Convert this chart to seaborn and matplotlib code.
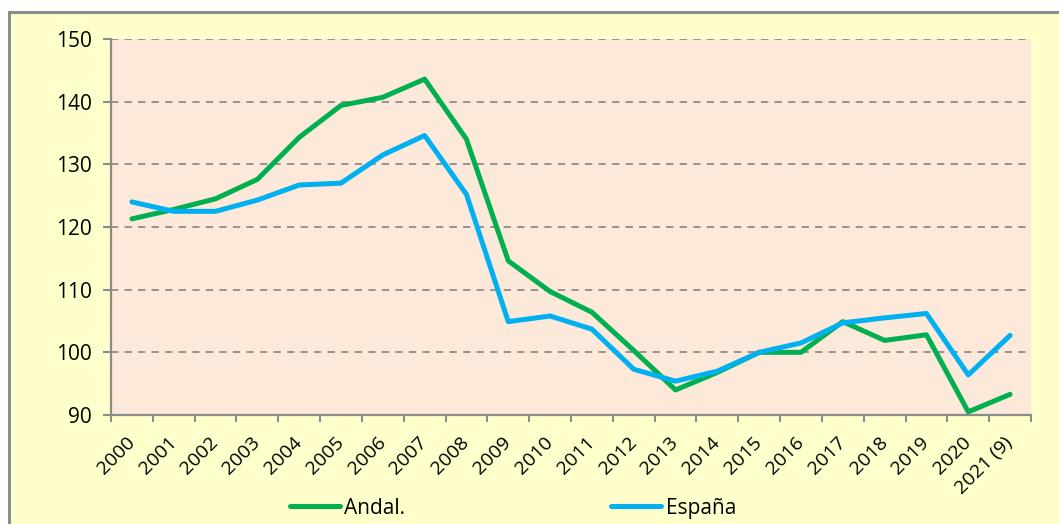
import matplotlib
matplotlib.use("Agg")
import matplotlib.pyplot as plt
import seaborn as sns
import pandas as pd
from matplotlib.patches import Rectangle
from matplotlib.ticker import FixedLocator

years = ["2000", "2001", "2002", "2003", "2004", "2005", "2006", "2007", "2008", "2009",
         "2010", "2011", "2012", "2013", "2014", "2015", "2016", "2017", "2018", "2019",
         "2020", "2021 (9)"]
andal = [121.3, 122.8, 124.5, 127.6, 134.3, 139.4, 140.7, 143.6, 134.0, 114.6,
         109.7, 106.4, 100.3, 94.0, 96.8, 100.0, 100.0, 104.9, 101.9, 102.8,
         90.5, 93.3]
espana = [124.0, 122.5, 122.5, 124.3, 126.7, 127.0, 131.5, 134.6, 125.2, 104.9,
          105.8, 103.7, 97.3, 95.4, 97.0, 100.0, 101.5, 104.7, 105.5, 106.2,
          96.4, 102.7]
series_names = ["Andal.", "España"]
colors = {"Andal.": "#00B050", "España": "#00B0F0"}

df = pd.DataFrame({
    "idx": list(range(len(years))) * 2,
    "value": andal + espana,
    "serie": [series_names[0]] * len(years) + [series_names[1]] * len(years),
})

sns.set_style("white")
plt.rcParams["font.family"] = ["Open Sans", "DejaVu Sans"]
plt.rcParams["text.color"] = "black"
plt.rcParams["xtick.color"] = "#8C8C8C"
plt.rcParams["ytick.color"] = "#8C8C8C"
plt.rcParams["xtick.labelcolor"] = "black"
plt.rcParams["ytick.labelcolor"] = "black"

W, H = 1059, 524
fig = plt.figure(figsize=(W / 100, H / 100), dpi=100, facecolor="white")
bg = fig.add_axes([0, 0, 1, 1], zorder=-10)
bg.set_xlim(0, W)
bg.set_ylim(0, H)
bg.axis("off")
bg.add_patch(Rectangle((9, -20), W + 40, H - 12 + 20, facecolor="#FFFFCC",
                       edgecolor="#8C8C8C", linewidth=2.2))

ax = fig.add_axes([111 / W, (H - 415) / H, (1031 - 111) / W, (415 - 39) / H])
ax.set_facecolor("#FDE9DA")

sns.lineplot(data=df, x="idx", y="value", hue="serie", palette=colors,
             linewidth=3.6, sort=False, ax=ax, legend=True)

ax.set_xlim(-0.5, len(years) - 0.5)
ax.set_ylim(90, 150)
ax.set_yticks(range(90, 151, 10))
ax.yaxis.grid(True, color="#8C8C8C", linestyle=(0, (4, 3.5)), linewidth=1.3)
ax.set_axisbelow(True)
for s in ["top", "right"]:
    ax.spines[s].set_visible(False)
for s in ["left", "bottom"]:
    ax.spines[s].set_color("#8C8C8C")
    ax.spines[s].set_linewidth(1.6)

ax.set_xticks(range(len(years)))
ax.set_xticklabels(years, rotation=45, ha="right", va="center",
                   rotation_mode="anchor", fontsize=14)
ax.xaxis.set_minor_locator(FixedLocator([i - 0.5 for i in range(len(years) + 1)]))
ax.tick_params(axis="x", which="major", bottom=True, length=0, pad=18)
ax.tick_params(axis="x", which="minor", bottom=True, length=5, width=1.5,
               color="#8C8C8C", direction="out")
ax.tick_params(axis="y", left=True, length=6, width=1.5, color="#8C8C8C",
               direction="out", labelsize=15, pad=8)
ax.set_xlabel("")
ax.set_ylabel("")

handles, labels = ax.get_legend_handles_labels()
leg = ax.legend(handles, labels, loc="center", bbox_to_anchor=(0.437, -0.248),
                ncol=2, frameon=False, fontsize=15, handlelength=2.4,
                columnspacing=9.9, handletextpad=0.2)
for line in leg.get_lines():
    line.set_linewidth(3.6)

fig.savefig("out.png", dpi=100, facecolor=fig.get_facecolor())
